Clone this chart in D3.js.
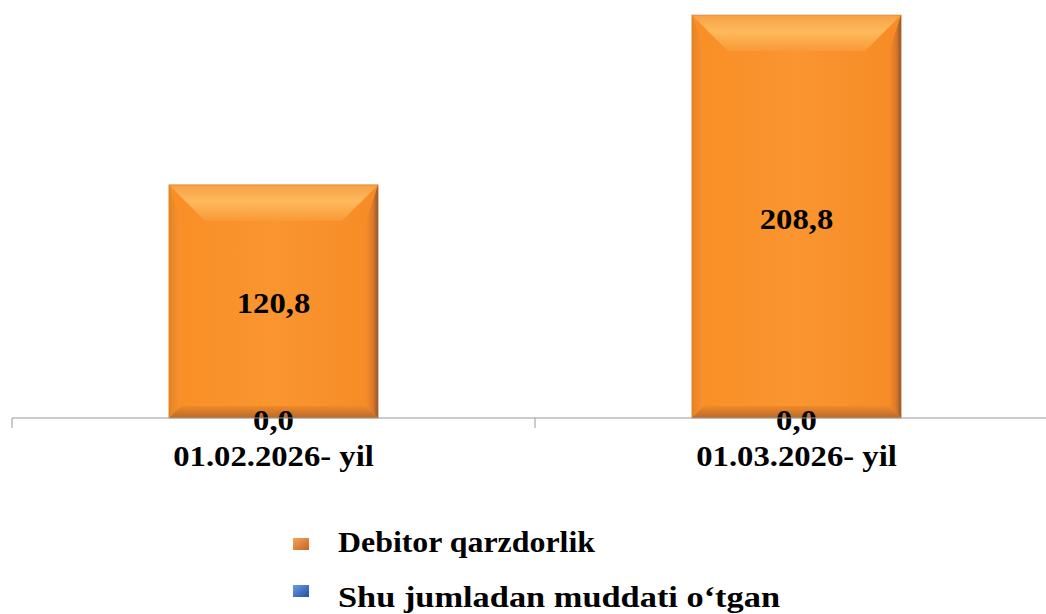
<!DOCTYPE html>
<html><head><meta charset="utf-8">
<script src="https://cdn.jsdelivr.net/npm/d3@7"></script>
<style>body{margin:0;background:#fff}svg{display:block}</style>
</head><body>
<script>
const categories = ["01.02.2026- yil", "01.03.2026- yil"];
const debitor = [120.8, 208.8];
const muddati = [0.0, 0.0];
const seriesNames = ["Debitor qarzdorlik", "Shu jumladan muddati o‘tgan"];

const W = 1046, H = 614;
const svg = d3.select("body").append("svg").attr("width", W).attr("height", H);
const defs = svg.append("defs");
const font = "'Liberation Serif','Times New Roman',serif";
const SX = 1.09;

const x = d3.scaleBand().domain(categories).range([12, 1058]).paddingInner(0).paddingOuter(0);
const y = d3.scaleLinear().domain([0, 208.8]).range([418, 15]);
const barW = x.bandwidth() * 0.4;

function lg(id, x1, y1, x2, y2, stops) {
  const g = defs.append("linearGradient").attr("id", id).attr("x1", x1).attr("y1", y1).attr("x2", x2).attr("y2", y2);
  stops.forEach(s => g.append("stop").attr("offset", s[0]).attr("stop-color", s[1]));
}
lg("main", 0, 0, 1, 0, [[0, "#F98E25"], [0.5, "#FA9530"], [1, "#F68B25"]]);
lg("top", 0, 0, 0, 1, [[0, "#F7A045"], [0.45, "#FDBA5C"], [1, "#F99A38"]]);
lg("left", 0, 0, 1, 0, [[0, "#E88322"], [1, "#F99231"]]);
lg("right", 0, 0, 1, 0, [[0, "#F58C2A"], [0.6, "#D9782A"], [1, "#8E5430"]]);
lg("bottom", 0, 0, 0, 1, [[0, "#F08A28"], [1, "#B8692C"]]);
lg("legO", 0, 0, 1, 1, [[0, "#F3A55A"], [1, "#C8641C"]]);
lg("legB", 0, 0, 1, 1, [[0, "#6E9BE0"], [1, "#1F4FA8"]]);

function stretchedText(parent, tx, ty, str, anchor) {
  return parent.append("text").attr("transform", `translate(${tx},${ty}) scale(${SX},1)`)
    .attr("text-anchor", anchor || "middle").attr("font-family", font).attr("font-weight", "bold")
    .attr("font-size", 30).attr("fill", "#000").text(str);
}

const g = svg.append("g");
categories.forEach((c, i) => {
  const cx = x(c) + x.bandwidth() / 2;
  const x0 = cx - barW / 2, x1 = cx + barW / 2;
  const y0 = y(debitor[i]), yb = y(0);
  const b = 12, tb = 36;
  const bar = g.append("g");
  bar.append("rect").attr("x", x0).attr("y", y0).attr("width", barW).attr("height", yb - y0).attr("fill", "url(#main)");
  const poly = (pts, fill) => bar.append("polygon").attr("points", pts.map(p => p.join(",")).join(" ")).attr("fill", fill);
  poly([[x0, y0], [x1, y0], [x1 - tb, y0 + tb], [x0 + tb, y0 + tb]], "url(#top)");
  poly([[x0, y0], [x0 + b, y0 + tb], [x0 + b, yb - b], [x0, yb]], "url(#left)");
  poly([[x1, y0], [x1, yb], [x1 - b, yb - b], [x1 - b, y0 + tb]], "url(#right)");
  poly([[x0, yb], [x0 + b, yb - b], [x1 - b, yb - b], [x1, yb]], "url(#bottom)");
  bar.append("rect").attr("x", x0).attr("y", y0).attr("width", barW).attr("height", yb - y0)
    .attr("fill", "none").attr("stroke", "#C87428").attr("stroke-width", 1).attr("opacity", 0.5);

  stretchedText(g, cx, (y0 + yb) / 2 + 12, d3.format(".1f")(debitor[i]).replace(".", ","));
  stretchedText(g, cx, y(muddati[i]) + 12, d3.format(".1f")(muddati[i]).replace(".", ","));
});

const ax = svg.append("g").attr("transform", `translate(0,${y(0)})`);
ax.append("path").attr("stroke", "#999").attr("fill", "none").attr("d", `M12,10V0H1058`);
[x(categories[1])].forEach(t => ax.append("line").attr("x1", t).attr("x2", t).attr("y1", 0).attr("y2", 10).attr("stroke", "#999"));
categories.forEach(c => stretchedText(svg, x(c) + x.bandwidth() / 2, 466, c));

const legendWidths = [257, 442];
const leg = svg.append("g");
seriesNames.forEach((s, i) => {
  const base = 552 + i * 55;
  leg.append("rect").attr("x", 293).attr("y", 538 + i * 47).attr("width", 16).attr("height", 12)
    .attr("fill", i === 0 ? "url(#legO)" : "url(#legB)");
  leg.append("text").attr("x", 338).attr("y", base)
    .attr("font-family", font).attr("font-weight", "bold").attr("font-size", 29)
    .attr("textLength", legendWidths[i]).attr("lengthAdjust", "spacingAndGlyphs").text(s);
});
</script>
</body></html>
